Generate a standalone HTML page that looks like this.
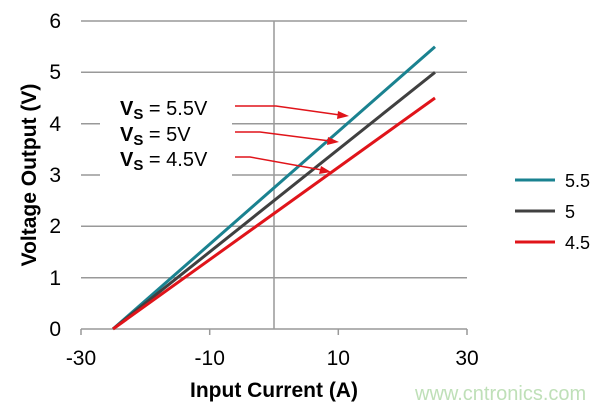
<!DOCTYPE html>
<html><head><meta charset="utf-8"><style>body{margin:0;background:#fff}svg{display:block}</style></head><body>
<svg width="608" height="407" xmlns="http://www.w3.org/2000/svg" font-family="Liberation Sans, Arial, sans-serif">
<g stroke="#999" stroke-width="1.5">
<line x1="81" y1="21" x2="467" y2="21"/>
<line x1="81" y1="72.3" x2="467" y2="72.3"/>
<line x1="81" y1="123.7" x2="100" y2="123.7"/><line x1="232" y1="123.7" x2="467" y2="123.7"/>
<line x1="81" y1="175" x2="100" y2="175"/><line x1="232" y1="175" x2="467" y2="175"/>
<line x1="81" y1="226.3" x2="467" y2="226.3"/>
<line x1="81" y1="277.7" x2="467" y2="277.7"/>
<line x1="81" y1="329" x2="467" y2="329"/>
<line x1="274" y1="21" x2="274" y2="329"/>
<line x1="81" y1="329" x2="81" y2="335"/><line x1="209.7" y1="329" x2="209.7" y2="335"/><line x1="338.3" y1="329" x2="338.3" y2="335"/><line x1="467" y1="329" x2="467" y2="335"/>
</g>
<g font-size="21" fill="#000">
<text x="61" y="28" text-anchor="end">6</text>
<text x="61" y="79" text-anchor="end">5</text>
<text x="61" y="131" text-anchor="end">4</text>
<text x="61" y="182" text-anchor="end">3</text>
<text x="61" y="233" text-anchor="end">2</text>
<text x="61" y="285" text-anchor="end">1</text>
<text x="61" y="336" text-anchor="end">0</text>
<text x="81" y="365" text-anchor="middle">-30</text>
<text x="209.7" y="365" text-anchor="middle">-10</text>
<text x="338.3" y="365" text-anchor="middle">10</text>
<text x="467" y="365" text-anchor="middle">30</text>
</g>
<text x="274" y="397" text-anchor="middle" font-size="21" font-weight="bold">Input Current (A)</text>
<text transform="translate(36,175) rotate(-90)" text-anchor="middle" font-size="21" font-weight="bold">Voltage Output (V)</text>
<g stroke-width="3" fill="none">
<line x1="113" y1="329" x2="435" y2="46.7" stroke="#1a8290"/>
<line x1="113" y1="329" x2="435" y2="72.3" stroke="#404040"/>
<line x1="113" y1="329" x2="435" y2="98" stroke="#e0141a"/>
</g>
<g font-size="20" fill="#000">
<text x="120" y="115"><tspan font-weight="bold">V</tspan><tspan font-weight="bold" font-size="15" dy="4">S</tspan><tspan dy="-4"> = 5.5V</tspan></text>
<text x="120" y="141"><tspan font-weight="bold">V</tspan><tspan font-weight="bold" font-size="15" dy="4">S</tspan><tspan dy="-4"> = 5V</tspan></text>
<text x="120" y="166"><tspan font-weight="bold">V</tspan><tspan font-weight="bold" font-size="15" dy="4">S</tspan><tspan dy="-4"> = 4.5V</tspan></text>
</g>
<g stroke="#e0141a" stroke-width="1.5" fill="none">
<polyline points="235,106 276,106 340,115"/>
<polyline points="235,132 260,132 330,141"/>
<polyline points="235,157 250,157 322,170"/>
</g>
<g fill="#e0141a">
<polygon points="349,116 338,111 337,119"/>
<polygon points="339,142 328,137 327,145"/>
<polygon points="331,172 321,166 319,174"/>
</g>
<g stroke-width="3">
<line x1="515" y1="180" x2="555" y2="180" stroke="#1a8290"/>
<line x1="515" y1="211" x2="555" y2="211" stroke="#404040"/>
<line x1="515" y1="242" x2="555" y2="242" stroke="#e0141a"/>
</g>
<g font-size="18" fill="#000">
<text x="565" y="187">5.5</text>
<text x="565" y="218">5</text>
<text x="565" y="249">4.5</text>
</g>
<text x="415" y="400" font-size="20" fill="#bfe0b8">www.cntronics.com</text>
</svg>
</body></html>
